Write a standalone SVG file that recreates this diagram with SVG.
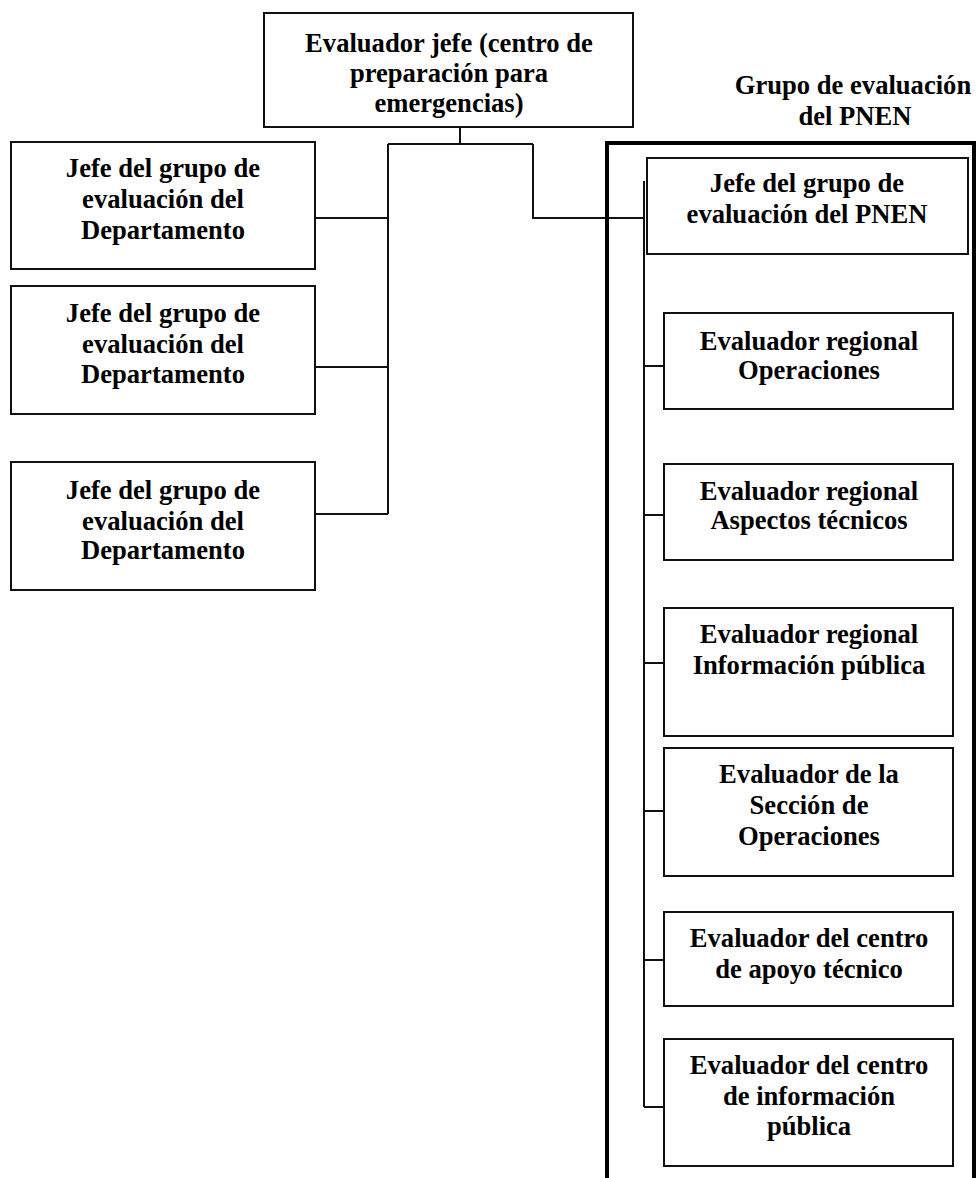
<svg xmlns="http://www.w3.org/2000/svg" width="979" height="1178" viewBox="0 0 979 1178">
  <style>
    .box { fill: #ffffff; stroke: #111111; stroke-width: 2; }
    .lbl { font-family: "Liberation Serif", "Times New Roman", serif; font-weight: bold; font-size: 26.6px; fill: #000000; text-anchor: middle; }
    .wire { fill: none; stroke: #111111; stroke-width: 2; }
    .frame { fill: none; stroke: #000000; stroke-width: 4; }
  </style>
  <rect width="979" height="1178" fill="#ffffff"/>

  <!-- connectors -->
  <g id="connectors">
    <path class="wire" d="M460,127 V144 M388,144 H533 M388,144 V514 M315,218 H388 M315,367 H388 M315,514 H388"/>
    <path class="wire" d="M533,144 V218 H644"/>
    <path class="wire" d="M644,181 V1107 M644,366 H664 M644,515 H664 M644,663 H664 M644,811 H664 M644,960 H664 M644,1107 H664"/>
  </g>

  <!-- PNEN evaluation group frame -->
  <g id="pnen-group">
    <path class="frame" d="M607,1178 V143 H974 V1178"/>
    <text class="lbl" x="853" y="94">Grupo de evaluación</text>
    <text class="lbl" x="855" y="125">del PNEN</text>
  </g>

  <g id="chief">
    <rect class="box" x="264" y="13" width="369" height="114"/>
    <text class="lbl" x="449" y="52">Evaluador jefe (centro de</text>
    <text class="lbl" x="449" y="82">preparación para</text>
    <text class="lbl" x="449" y="112">emergencias)</text>
  </g>

  <g id="dept-1">
    <rect class="box" x="11" y="142" width="304" height="127"/>
    <text class="lbl" x="163" y="177">Jefe del grupo de</text>
    <text class="lbl" x="163" y="208">evaluación del</text>
    <text class="lbl" x="163" y="239">Departamento</text>
  </g>

  <g id="dept-2">
    <rect class="box" x="11" y="286" width="304" height="128"/>
    <text class="lbl" x="163" y="322">Jefe del grupo de</text>
    <text class="lbl" x="163" y="353">evaluación del</text>
    <text class="lbl" x="163" y="383">Departamento</text>
  </g>

  <g id="dept-3">
    <rect class="box" x="11" y="462" width="304" height="128"/>
    <text class="lbl" x="163" y="499">Jefe del grupo de</text>
    <text class="lbl" x="163" y="530">evaluación del</text>
    <text class="lbl" x="163" y="559">Departamento</text>
  </g>

  <g id="pnen-chief">
    <rect class="box" x="647" y="158" width="321" height="96"/>
    <text class="lbl" x="807" y="192">Jefe del grupo de</text>
    <text class="lbl" x="807" y="223">evaluación del PNEN</text>
  </g>

  <g id="regional-ops">
    <rect class="box" x="664" y="313" width="289" height="96"/>
    <text class="lbl" x="809" y="350">Evaluador regional</text>
    <text class="lbl" x="809" y="379">Operaciones</text>
  </g>

  <g id="regional-tech">
    <rect class="box" x="664" y="464" width="289" height="96"/>
    <text class="lbl" x="809" y="500">Evaluador regional</text>
    <text class="lbl" x="809" y="529">Aspectos técnicos</text>
  </g>

  <g id="regional-info">
    <rect class="box" x="664" y="608" width="289" height="128"/>
    <text class="lbl" x="809" y="643">Evaluador regional</text>
    <text class="lbl" x="809" y="674">Información pública</text>
  </g>

  <g id="ops-section">
    <rect class="box" x="664" y="748" width="289" height="128"/>
    <text class="lbl" x="809" y="783">Evaluador de la</text>
    <text class="lbl" x="809" y="814">Sección de</text>
    <text class="lbl" x="809" y="845">Operaciones</text>
  </g>

  <g id="tech-support">
    <rect class="box" x="664" y="912" width="289" height="94"/>
    <text class="lbl" x="809" y="947">Evaluador del centro</text>
    <text class="lbl" x="809" y="978">de apoyo técnico</text>
  </g>

  <g id="public-info">
    <rect class="box" x="664" y="1039" width="289" height="127"/>
    <text class="lbl" x="809" y="1074">Evaluador del centro</text>
    <text class="lbl" x="809" y="1105">de información</text>
    <text class="lbl" x="809" y="1135">pública</text>
  </g>
</svg>
